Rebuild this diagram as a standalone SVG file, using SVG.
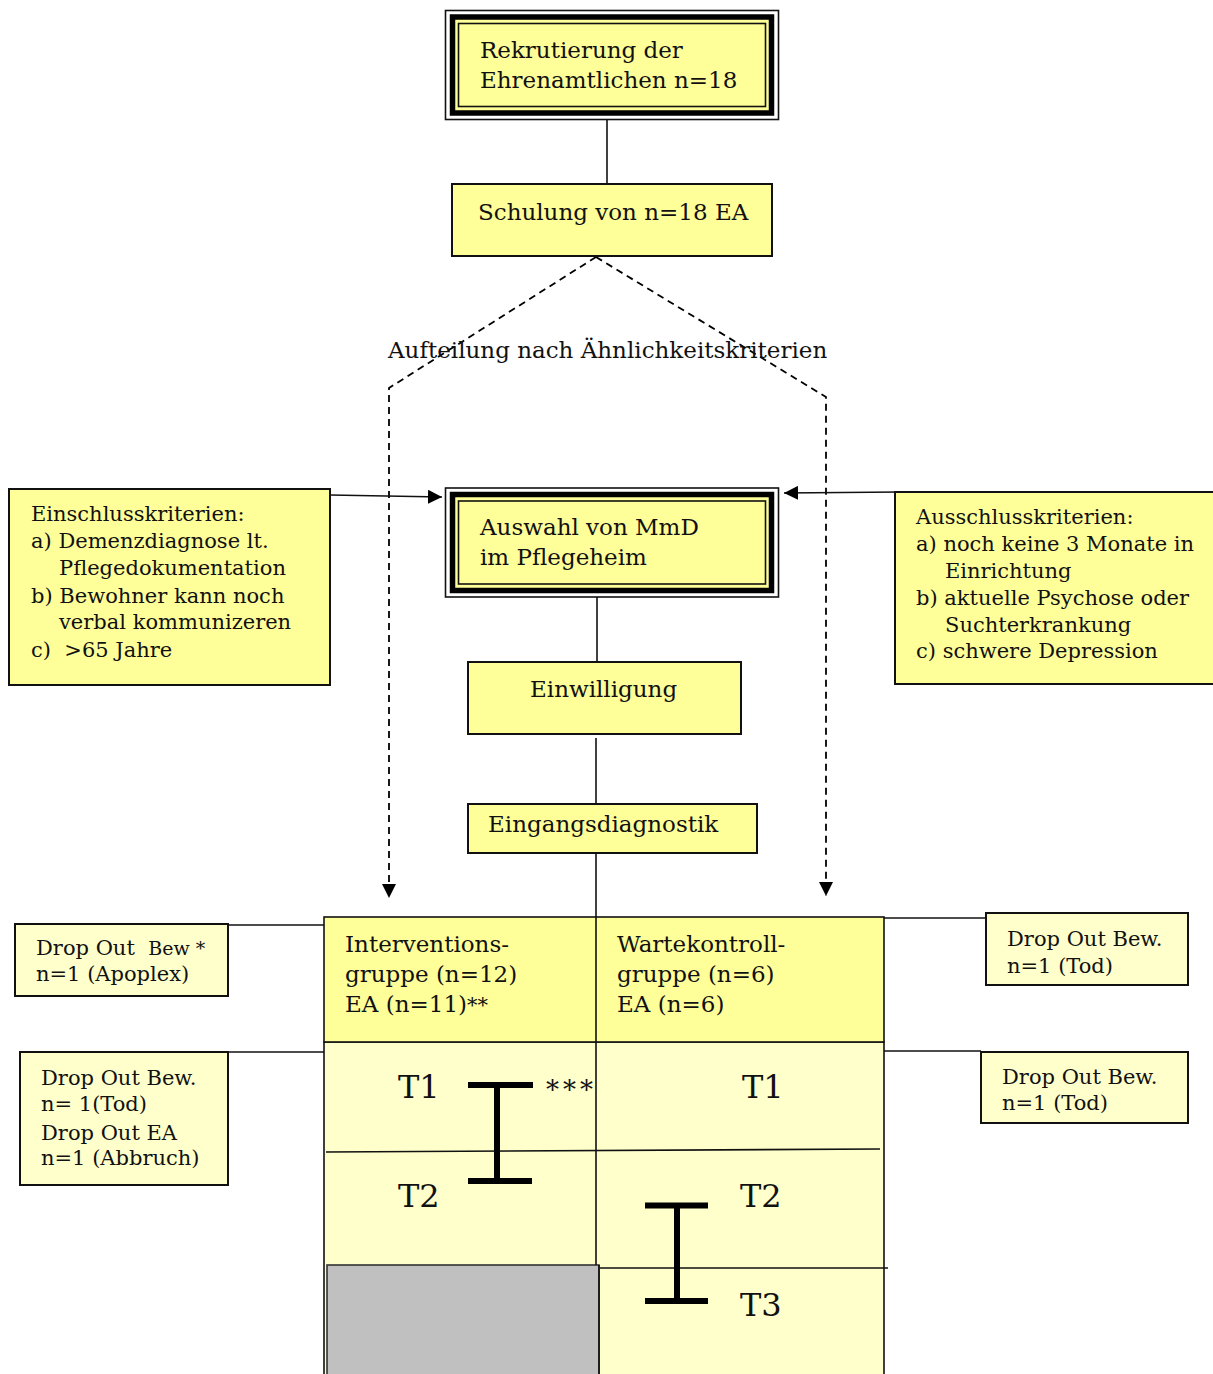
<svg xmlns="http://www.w3.org/2000/svg" width="1213" height="1374" viewBox="0 0 1213 1374">
<style>
text{font-family:"DejaVu Serif","Liberation Serif",serif;fill:#111;}
.t{font-size:23px;}
.c{font-size:21px;}
.d{font-size:21px;}
.big{font-size:32px;}
.box{fill:#FFFF99;stroke:#111;stroke-width:2;}
.lbox{fill:#FFFFCC;stroke:#111;stroke-width:2;}
.o1{fill:#fff;stroke:#111;stroke-width:1.6;}
.o2{fill:#FFFF99;stroke:#000;stroke-width:5.5;}
.o3{fill:#FFFF99;stroke:#111;stroke-width:1.6;}
.ln{stroke:#111;stroke-width:1.6;fill:none;}
.dash{stroke:#000;stroke-width:1.8;fill:none;stroke-dasharray:7 5;}
.ibar{stroke:#000;stroke-width:6;fill:none;}
</style>
<defs>
<marker id="arr" markerWidth="14" markerHeight="14" refX="14" refY="7" orient="auto" markerUnits="userSpaceOnUse"><path d="M0,0 L14,7 L0,14 z" fill="#000"/></marker>
<clipPath id="clip1"><rect x="15" y="924" width="214" height="61"/></clipPath>
</defs>

<g id="connectors">
<line class="ln" x1="607" y1="119" x2="607" y2="184"/>
<path class="dash" d="M596,257 L389,388 L389,898" marker-end="url(#arr)"/>
<path class="dash" d="M596,257 L826,397 L826,896" marker-end="url(#arr)"/>
<line class="ln" x1="330" y1="495" x2="442" y2="497" marker-end="url(#arr)"/>
<line class="ln" x1="900" y1="492" x2="784" y2="493" marker-end="url(#arr)"/>
<line class="ln" x1="597" y1="597" x2="597" y2="662"/>
<line class="ln" x1="596" y1="738" x2="596" y2="804"/>
<line class="ln" x1="596" y1="853" x2="596" y2="917"/>
<line class="ln" x1="228" y1="925" x2="324" y2="925"/>
<line class="ln" x1="228" y1="1052" x2="324" y2="1052"/>
<line class="ln" x1="884" y1="918" x2="986" y2="918"/>
<line class="ln" x1="884" y1="1051" x2="981" y2="1051"/>
</g>

<g id="rekrutierung">
<rect class="o1" x="445.5" y="10.5" width="333" height="109"/>
<rect class="o2" x="452.5" y="17" width="319" height="96"/>
<rect class="o3" x="458.5" y="23.5" width="307" height="83"/>
<text class="t" x="480" y="58">Rekrutierung der</text>
<text class="t" x="480" y="88">Ehrenamtlichen n=18</text>
</g>

<g id="schulung">
<rect class="box" x="452" y="184" width="320" height="72"/>
<text class="t" x="478" y="220">Schulung von n=18 EA</text>
</g>

<g id="aufteilung">
<text class="t" x="388" y="358" font-size="23.4">Aufteilung nach Ähnlichkeitskriterien</text>
</g>

<g id="einschluss">
<rect class="box" x="9" y="489" width="321" height="196"/>
<text class="c" x="31" y="521">Einschlusskriterien:</text>
<text class="c" x="31" y="548">a) Demenzdiagnose lt.</text>
<text class="c" x="59" y="575">Pflegedokumentation</text>
<text class="c" x="31" y="603">b) Bewohner kann noch</text>
<text class="c" x="59" y="629">verbal kommunizeren</text>
<text class="c" x="31" y="657">c)&#160;&#160;&gt;65 Jahre</text>
</g>

<g id="auswahl">
<rect class="o1" x="445.5" y="488" width="333" height="109"/>
<rect class="o2" x="452.5" y="494.5" width="319" height="96"/>
<rect class="o3" x="458.5" y="501" width="307" height="83"/>
<text class="t" x="480" y="535">Auswahl von MmD</text>
<text class="t" x="480" y="565">im Pflegeheim</text>
</g>

<g id="ausschluss">
<rect class="box" x="895" y="492" width="330" height="192"/>
<text class="c" x="916" y="524">Ausschlusskriterien:</text>
<text class="c" x="916" y="551">a) noch keine 3 Monate in</text>
<text class="c" x="945" y="578">Einrichtung</text>
<text class="c" x="916" y="605">b) aktuelle Psychose oder</text>
<text class="c" x="945" y="632">Suchterkrankung</text>
<text class="c" x="916" y="658">c) schwere Depression</text>
</g>

<g id="einwilligung">
<rect class="box" x="468" y="662" width="273" height="72"/>
<text class="t" x="530" y="697">Einwilligung</text>
</g>

<g id="eingangsdiagnostik">
<rect class="box" x="468" y="804" width="289" height="49"/>
<text class="t" x="488" y="832">Eingangsdiagnostik</text>
</g>

<g id="tabelle">
<rect x="324" y="1042" width="560" height="340" fill="#FFFFCC" stroke="#111" stroke-width="1.6"/>
<rect x="324" y="917" width="560" height="125" fill="#FFFF99" stroke="#111" stroke-width="1.6"/>
<rect x="327" y="1265" width="272" height="120" fill="#C0C0C0" stroke="#333" stroke-width="1.6"/>
<line class="ln" x1="596" y1="917" x2="596" y2="1265"/>
<line class="ln" x1="599" y1="1265" x2="599" y2="1374"/>
<line class="ln" x1="326" y1="1152" x2="880" y2="1149"/>
<line class="ln" x1="600" y1="1268" x2="888" y2="1268"/>
<text class="t" x="345" y="952">Interventions-</text>
<text class="t" x="345" y="982">gruppe (n=12)</text>
<text class="t" x="345" y="1012">EA (n=11)<tspan font-size="21">**</tspan></text>
<text class="t" x="617" y="952">Wartekontroll-</text>
<text class="t" x="617" y="982">gruppe (n=6)</text>
<text class="t" x="617" y="1012">EA (n=6)</text>
<text class="big" x="398" y="1098">T1</text>
<text class="big" x="398" y="1207">T2</text>
<text class="big" x="742" y="1098">T1</text>
<text class="big" x="740" y="1207">T2</text>
<text class="big" x="740" y="1316">T3</text>
<text x="546" y="1099" font-size="26" letter-spacing="4">***</text>
<path class="ibar" d="M468,1085 H533 M497,1085 V1181 M468,1181 H532"/>
<path class="ibar" d="M645,1205.5 H708 M677,1205.5 V1301 M645,1301 H708"/>
</g>

<g id="dropout1">
<rect class="lbox" x="15" y="924" width="213" height="72"/>
<g clip-path="url(#clip1)">
<text class="d" x="36" y="955">Drop Out&#160;&#160;<tspan font-size="19">Bew *</tspan></text>
<text class="d" x="36" y="981">n=1 (Apoplex)</text>
</g>
</g>

<g id="dropout2">
<rect class="lbox" x="20" y="1052" width="208" height="133"/>
<text class="d" x="41" y="1085">Drop Out Bew.</text>
<text class="d" x="41" y="1111">n= 1(Tod)</text>
<text class="d" x="41" y="1140">Drop Out EA</text>
<text class="d" x="41" y="1165">n=1 (Abbruch)</text>
</g>

<g id="dropout3">
<rect class="lbox" x="986" y="913" width="202" height="72"/>
<text class="d" x="1007" y="946">Drop Out Bew.</text>
<text class="d" x="1007" y="973">n=1 (Tod)</text>
</g>

<g id="dropout4">
<rect class="lbox" x="981" y="1052" width="207" height="71"/>
<text class="d" x="1002" y="1084">Drop Out Bew.</text>
<text class="d" x="1002" y="1110">n=1 (Tod)</text>
</g>
</svg>
